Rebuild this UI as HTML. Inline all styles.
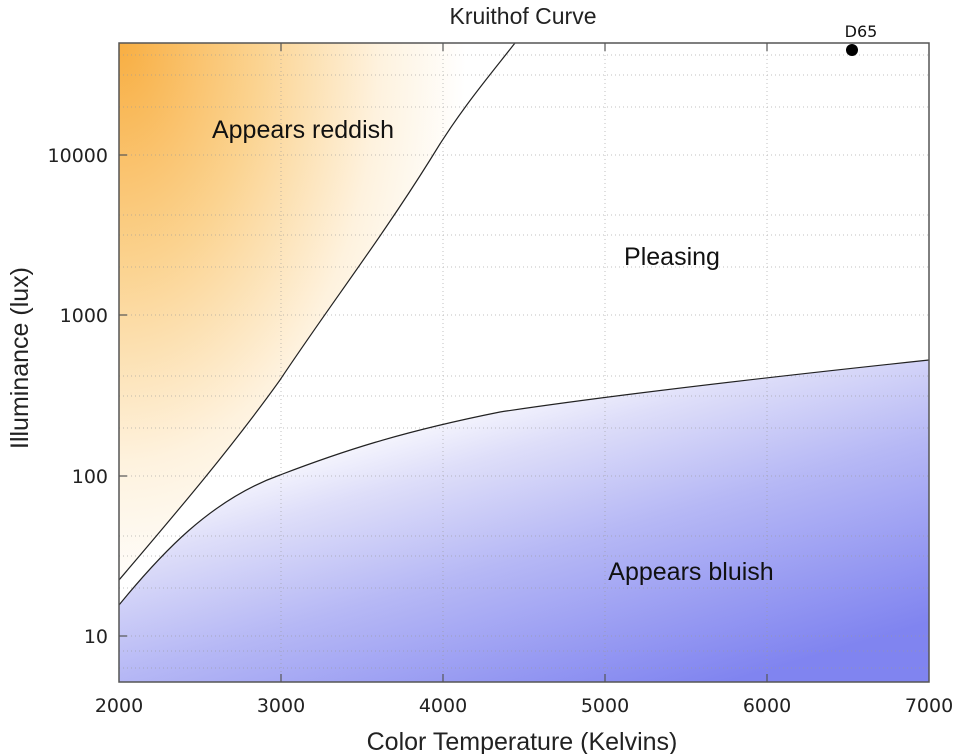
<!DOCTYPE html>
<html><head><meta charset="utf-8"><style>
html,body{margin:0;padding:0;background:#fff;}
svg{display:block;font-family:"DejaVu Sans","Liberation Sans",sans-serif;}
</style></head><body>
<svg width="960" height="754" viewBox="0 0 960 754" xmlns="http://www.w3.org/2000/svg">
<defs>
<radialGradient id="og" cx="119" cy="43" r="560" gradientUnits="userSpaceOnUse" gradientTransform="translate(119,43) scale(0.62,1) translate(-119,-43)">
<stop offset="0" stop-color="#f8ae42"/>
<stop offset="0.4" stop-color="#fbd390"/>
<stop offset="0.75" stop-color="#fef2de"/>
<stop offset="1" stop-color="#ffffff"/>
</radialGradient>
<linearGradient id="bg" x1="500" y1="380" x2="600" y2="720" gradientUnits="userSpaceOnUse">
<stop offset="0" stop-color="#ffffff"/>
<stop offset="0.2" stop-color="#dedef9"/>
<stop offset="0.5" stop-color="#b6b8f5"/>
<stop offset="1" stop-color="#8084f0"/>
</linearGradient>
</defs>
<path d="M119,580 C170,520 230,450 280,380 C330,305 380,240 430,160 C460,110 490,75 515,43 L119,43 Z" fill="url(#og)"/>
<path d="M119,605 C160,555 210,500 280,475 C340,452 400,432 500,412 C600,397 760,378 929,360 L929,682 L119,682 Z" fill="url(#bg)"/>
<g stroke="#999" stroke-width="1" stroke-dasharray="1,3" opacity="0.6">
<line x1="281" y1="43" x2="281" y2="682"/><line x1="443" y1="43" x2="443" y2="682"/>
<line x1="605" y1="43" x2="605" y2="682"/><line x1="767" y1="43" x2="767" y2="682"/>
<line x1="119" y1="155" x2="929" y2="155"/><line x1="119" y1="315" x2="929" y2="315"/>
<line x1="119" y1="476" x2="929" y2="476"/><line x1="119" y1="636" x2="929" y2="636"/>
<line x1="119" y1="107" x2="929" y2="107"/><line x1="119" y1="75" x2="929" y2="75"/><line x1="119" y1="55" x2="929" y2="55"/>
<line x1="119" y1="267" x2="929" y2="267"/><line x1="119" y1="235" x2="929" y2="235"/><line x1="119" y1="215" x2="929" y2="215"/>
<line x1="119" y1="428" x2="929" y2="428"/><line x1="119" y1="396" x2="929" y2="396"/><line x1="119" y1="376" x2="929" y2="376"/>
<line x1="119" y1="588" x2="929" y2="588"/><line x1="119" y1="556" x2="929" y2="556"/><line x1="119" y1="536" x2="929" y2="536"/>
<line x1="119" y1="668" x2="929" y2="668"/><line x1="119" y1="651" x2="929" y2="651"/>
</g>
<path d="M119,580 C170,520 230,450 280,380 C330,305 380,240 430,160 C460,110 490,75 515,43" fill="none" stroke="#222" stroke-width="1.2"/>
<path d="M119,605 C160,555 210,500 280,475 C340,452 400,432 500,412 C600,397 760,378 929,360" fill="none" stroke="#222" stroke-width="1.2"/>
<rect x="119" y="43" width="810" height="639" fill="none" stroke="#555" stroke-width="1.5"/>
<g stroke="#555" stroke-width="1.2">
<line x1="281" y1="682" x2="281" y2="674"/><line x1="443" y1="682" x2="443" y2="674"/><line x1="605" y1="682" x2="605" y2="674"/><line x1="767" y1="682" x2="767" y2="674"/>
<line x1="281" y1="43" x2="281" y2="51"/><line x1="443" y1="43" x2="443" y2="51"/><line x1="605" y1="43" x2="605" y2="51"/><line x1="767" y1="43" x2="767" y2="51"/>
<line x1="119" y1="155" x2="127" y2="155"/><line x1="119" y1="315" x2="127" y2="315"/><line x1="119" y1="476" x2="127" y2="476"/><line x1="119" y1="636" x2="127" y2="636"/>
</g>
<g font-size="19" fill="#222" text-anchor="middle">
<text x="119" y="712">2000</text><text x="281" y="712">3000</text><text x="443" y="712">4000</text>
<text x="605" y="712">5000</text><text x="767" y="712">6000</text><text x="929" y="712">7000</text>
</g>
<g font-size="19" fill="#222" text-anchor="end">
<text x="108" y="162">10000</text><text x="108" y="322">1000</text><text x="108" y="483">100</text><text x="108" y="643">10</text>
</g>
<text x="522" y="750" font-size="25" fill="#222" text-anchor="middle" font-family="Liberation Sans, sans-serif">Color Temperature (Kelvins)</text>
<text transform="translate(28,358) rotate(-90)" font-size="25" fill="#222" text-anchor="middle" font-family="Liberation Sans, sans-serif">Illuminance (lux)</text>
<text x="523" y="24" font-size="23" fill="#222" text-anchor="middle" font-family="Liberation Sans, sans-serif">Kruithof Curve</text>
<g font-family="Liberation Sans, sans-serif" font-size="25" fill="#111" text-anchor="middle">
<text x="303" y="138">Appears reddish</text>
<text x="672" y="265">Pleasing</text>
<text x="691" y="580">Appears bluish</text>
</g>
<circle cx="852" cy="50" r="6" fill="#000"/>
<text x="861" y="37" font-size="16" fill="#111" text-anchor="middle">D65</text>
</svg>
</body></html>
